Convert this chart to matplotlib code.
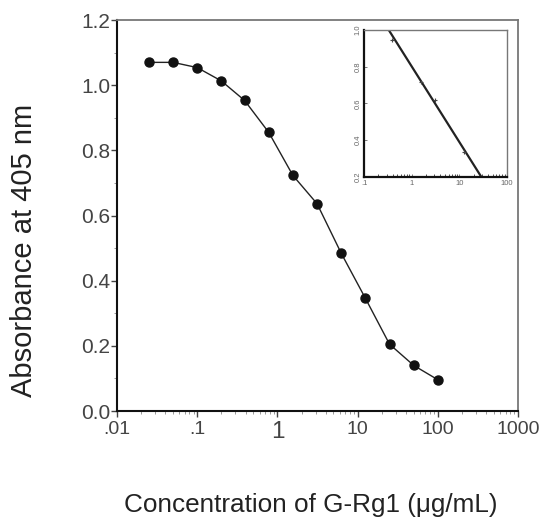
import matplotlib
matplotlib.use('Agg')
import matplotlib.pyplot as plt
from matplotlib.ticker import FixedLocator, LogLocator, NullFormatter, MultipleLocator

plt.rcParams['font.family'] = ['Liberation Sans', 'DejaVu Sans']

# competitive ELISA standard curve
conc = [0.025, 0.05, 0.1, 0.2, 0.39, 0.78, 1.56, 3.125, 6.25, 12.5, 25, 50, 100]
absorb = [1.07, 1.07, 1.054, 1.013, 0.953, 0.855, 0.723, 0.636, 0.484, 0.346, 0.205, 0.14, 0.096]

# inset: linear part
inset_conc = [0.39, 1.56, 3.125, 12.5]
inset_abs = [0.946, 0.715, 0.62, 0.337]
fit_conc = [0.33, 29]
fit_abs = [1.0, 0.2]

xticks = [0.01, 0.1, 1, 10, 100, 1000]
xlabels = ['.01', '.1', '1', '10', '100', '1000']
inset_xticks = [0.1, 1, 10, 100]
inset_xlabels = ['.1', '1', '10', '100']
inset_yticks = [0.2, 0.4, 0.6, 0.8, 1.0]
inset_ylabels = ['0.2', '0.4', '0.6', '0.8', '1.0']

fig = plt.figure(figsize=(5.45, 5.17), dpi=100)
ax = fig.add_axes([0.2147, 0.205, 0.7358, 0.7563])

ax.plot(conc, absorb, '-', color='#222222', lw=1.0, zorder=2)
ax.plot(conc, absorb, 'o', color='#111111', ms=6.5, zorder=3)
ax.set_xscale('log')
ax.set_xlim(0.01, 1000)
ax.set_ylim(0.0, 1.2)

ax.xaxis.set_major_locator(FixedLocator(xticks))
ax.set_xticklabels(xlabels)
ax.xaxis.set_minor_locator(LogLocator(base=10, subs=range(2, 10)))
ax.xaxis.set_minor_formatter(NullFormatter())
ax.yaxis.set_major_locator(MultipleLocator(0.2))
ax.yaxis.set_minor_locator(MultipleLocator(0.1))
ax.set_yticklabels(['%.1f' % v for v in ax.get_yticks()])

ax.tick_params(axis='both', which='major', direction='out', length=4, width=1, colors='#444444',
               labelcolor='#444444')
ax.tick_params(axis='y', which='major', labelsize=15, pad=1)
ax.tick_params(axis='x', which='major', labelsize=14, pad=3)
ax.tick_params(axis='both', which='minor', direction='out', length=2, width=0.6, colors='#888888')
for lbl in ax.get_xticklabels():
    if lbl.get_text() == '1':
        lbl.set_fontsize(17.5)

for side in ['left', 'bottom']:
    ax.spines[side].set_color('#111111')
    ax.spines[side].set_linewidth(1.5)
for side in ['top', 'right']:
    ax.spines[side].set_color('#777777')
    ax.spines[side].set_linewidth(1.3)

ax.set_ylabel('Absorbance at 405 nm', fontsize=21, color='#222222')
ax.yaxis.set_label_coords(-0.196, 0.41)
ax.set_xlabel('Concentration of G-Rg1 (\u03bcg/mL)', fontsize=18.8, color='#222222')
ax.xaxis.set_label_coords(0.484, -0.21)

# inset
ins = fig.add_axes([0.668, 0.658, 0.262, 0.284])
ins.plot(fit_conc, fit_abs, '-', color='#222222', lw=1.6)
ins.plot(inset_conc, inset_abs, '+', color='#444444', ms=3, mew=0.8)
ins.set_xscale('log')
ins.set_xlim(0.1, 100)
ins.set_ylim(0.2, 1.0)
ins.xaxis.set_major_locator(FixedLocator(inset_xticks))
ins.set_xticklabels(inset_xlabels)
ins.xaxis.set_minor_locator(LogLocator(base=10, subs=range(2, 10)))
ins.xaxis.set_minor_formatter(NullFormatter())
ins.yaxis.set_major_locator(FixedLocator(inset_yticks))
ins.set_yticklabels(inset_ylabels, rotation=90, va='center')
ins.tick_params(axis='both', which='major', direction='in', length=2, width=0.6,
                labelsize=5.5, colors='#666666', pad=2)
ins.tick_params(axis='x', which='minor', direction='in', length=2, width=0.6, colors='#333333')
for side in ['left', 'bottom']:
    ins.spines[side].set_color('#111111')
    ins.spines[side].set_linewidth(1.6)
for side in ['top', 'right']:
    ins.spines[side].set_color('#777777')
    ins.spines[side].set_linewidth(1.0)

plt.savefig('out.png', dpi=100)
